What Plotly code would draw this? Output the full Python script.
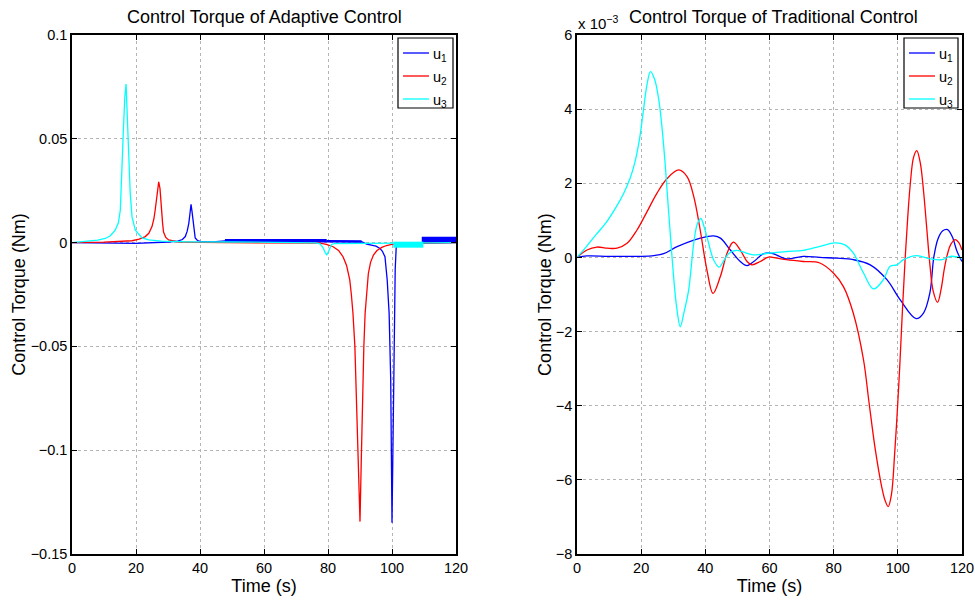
import plotly.graph_objects as go

# ---------------- Adaptive control (Nm) ----------------
ad_u1_t = [0, 10, 20, 30, 33, 34.5, 35.4, 36.0, 36.5, 36.9, 37.2, 37.5, 37.9, 38.5, 39.2, 40.1, 44, 47.8,
           79.6, 90.5, 92.1, 93.5, 95.0, 96.25, 97.0, 97.8, 98.5, 99.1, 99.6, 100.0, 100.4, 100.7, 101.0,
           101.3, 101.7, 103, 109.3, 120]
ad_u1_v = [0, -0.0002, -0.0004, 0.0003, 0.0007, 0.0015, 0.0029, 0.0055, 0.0093, 0.0145, 0.0184, 0.015,
           0.0093, 0.0022, 0.0010, 0.0006, 0.0003, 0.0008,
           0.0007, 0.0004, -0.0007, -0.0011, -0.0017, -0.0028, -0.0042, -0.0068, -0.018, -0.034, -0.066,
           -0.135, -0.074, -0.034, -0.013, -0.0028, -0.0007, -0.0005, -0.0004, 0.0]

ad_u1_chat1_t = [47.8, 79.6]
ad_u1_chat1_v = [0.0009, 0.0009]
ad_u1_chat2_t = [79.6, 90.5]
ad_u1_chat2_v = [0.0007, 0.0005]
ad_u1_chat3_t = [109.3, 120]
ad_u1_chat3_v = [0.0014, 0.0014]

ad_u2_t = [0, 10, 18.75, 21, 22.9, 24, 25, 25.6, 26, 26.6, 27.1, 27.5, 27.9, 28.3, 28.6, 29.3, 30.2, 33.3, 40,
           60, 77.5, 79.5, 81.6, 83.3, 84.7, 85.8, 86.8, 87.3, 87.8, 88.4, 88.9, 89.5, 90.0, 90.4, 90.8, 91.2,
           91.6, 92.1, 92.6, 93.3, 94.2, 95.3, 96.8, 98.3, 99.9, 105, 120]
ad_u2_v = [0, 0.0002, 0.0009, 0.0017, 0.0029, 0.0045, 0.0077, 0.0115, 0.0157, 0.023, 0.0293, 0.026, 0.0157,
           0.0095, 0.0051, 0.0025, 0.0013, 0.0003, 0.0001,
           0.0, -0.0003, -0.0009, -0.002, -0.0038, -0.0068, -0.011, -0.018, -0.025, -0.034, -0.05, -0.074,
           -0.105, -0.1344, -0.105, -0.074, -0.05, -0.034, -0.022, -0.015, -0.0095, -0.006, -0.0038,
           -0.0023, -0.0014, -0.0009, -0.0003, 0.0]

ad_u3_t = [0, 4, 8, 10.4, 12, 13.5, 14.5, 15.1, 15.6, 16.1, 16.5, 16.9, 17.2, 17.7, 18.2, 18.75, 19.8, 21.9,
           24, 28, 35, 50, 70, 76, 77.5, 78.5, 79.1, 79.6, 80.2, 81.1, 82, 90, 100.4, 109.8, 120]
ad_u3_v = [0, 0.0005, 0.0012, 0.002, 0.0033, 0.006, 0.0095, 0.0157, 0.0398, 0.0558, 0.07, 0.0764, 0.0639,
           0.0398, 0.0237, 0.0125, 0.006, 0.0023, 0.0013, 0.0007, 0.0004, 0.0003, 0.0002, -0.0001, -0.0006,
           -0.0025, -0.0048, -0.006, -0.0042, -0.0009, -0.0005, -0.0004, -0.0006, -0.0003, 0.0]

ad_u3_chat_t = [100.4, 109.8]
ad_u3_chat_v = [-0.001, -0.001]

# ---------------- Traditional control (x 10^-3 Nm) ----------------
tr_u1_t = [0, 3.1, 10, 20, 24, 27, 31.2, 36.4, 40.5, 42.6, 44.7, 47.8, 50.9, 53, 55.1, 58.2, 60.8, 65.3,
           70.5, 75.7, 80.9, 86.1, 91.4, 96.6, 100.7, 105.7, 108, 110, 111.2, 112.5, 114, 115.5, 117, 118.5, 120]
tr_u1_v = [0, 0.04, 0.03, 0.03, 0.05, 0.1, 0.29, 0.47, 0.56, 0.58, 0.52, 0.2, -0.11, -0.22, -0.11, 0.1, 0.11,
           -0.04, 0.03, 0, -0.02, -0.06, -0.2, -0.6, -1.14, -1.65, -1.5, -0.95, 0.0, 0.5, 0.72, 0.75, 0.55, 0.15,
           -0.11]

tr_u2_t = [0, 3.1, 6.2, 9.4, 12.5, 15.6, 18.7, 21.8, 24.9, 28.1, 31.7, 34.3, 36.4, 38.4, 40.5, 42.4, 44.7,
           46.8, 48.7, 50.9, 53, 54.5, 57.1, 59.7, 62.3, 65.3, 70.5, 75.7, 79.9, 83, 86.1, 89.3, 91, 93, 95, 96,
           97, 98, 99, 100, 100.7, 101.5, 102.3, 103.1, 103.9, 104.9, 105.9, 107, 108, 109, 110, 111, 112.4,
           113.5, 114.5, 115.5, 116.5, 117.9, 119, 120]
tr_u2_v = [0, 0.2, 0.28, 0.25, 0.25, 0.38, 0.74, 1.23, 1.73, 2.13, 2.36, 2.18, 1.64, 0.74, -0.34, -0.97, -0.51,
           0.12, 0.41, 0.2, -0.11, -0.2, -0.11, 0.01, -0.02, -0.06, -0.11, -0.15, -0.42, -0.78, -1.5, -2.76, -3.9,
           -5.2, -6.2, -6.55, -6.72, -6.4, -5.3, -3.9, -2.76, -1.3, 0, 1.1, 2.0, 2.7, 2.88, 2.55, 1.8, 0.8, -0.2,
           -0.9, -1.21, -0.85, -0.3, 0.1, 0.35, 0.48, 0.4, 0.2]

tr_u3_t = [0, 3, 6, 9, 12, 14.5, 16.5, 18, 19.5, 20.6, 21.8, 22.9, 24.2, 25.5, 26.5, 27.5, 28.5, 29.6, 31,
           32.2, 33.3, 34.8, 36.4, 37.5, 38.6, 39.7, 40.5, 42.6, 44.3, 46, 47.5, 49.7, 52, 54.9, 57, 60.1, 65.3,
           70.5, 75.7, 80.4, 83.5, 86.1, 89.3, 92.4, 95.5, 97.6, 99.7, 101.8, 105.9, 110.1, 113.8, 116.4, 120]
tr_u3_v = [0, 0.3, 0.62, 0.93, 1.33, 1.72, 2.12, 2.55, 3.2, 3.9, 4.65, 5.01, 4.8, 4.25, 3.5, 2.5, 1.3, 0.03,
           -1.3, -1.87, -1.5, -0.88, 0.39, 0.9, 1.05, 0.8, 0.56, -0.07, -0.26, -0.05, 0.12, 0.19, 0.14, 0.07,
           0.08, 0.12, 0.16, 0.19, 0.3, 0.39, 0.34, 0.12, -0.42, -0.85, -0.6, -0.24, -0.2, -0.06, 0.05, -0.04,
           -0.06, 0.03, -0.02]

left_yticks = [0.1, 0.05, 0, -0.05, -0.1, -0.15]
left_yticktext = ["0.1", "0.05", "0", "\u22120.05", "\u22120.1", "\u22120.15"]
right_yticks = [6, 4, 2, 0, -2, -4, -6, -8]
right_yticktext = ["6", "4", "2", "0", "\u22122", "\u22124", "\u22126", "\u22128"]
xticks = [0, 20, 40, 60, 80, 100, 120]
legend_names = ["u<sub>1</sub>", "u<sub>2</sub>", "u<sub>3</sub>"]

BLUE, RED, CYAN = "#0000ff", "#ff0000", "#00ffff"
COLORS = [BLUE, RED, CYAN]
FONT = "Liberation Sans, Arial, sans-serif"

fig = go.Figure()

def add(x, y, color, name, xa, ya, width=1.3, shape="linear"):
    fig.add_trace(go.Scatter(x=x, y=y, mode="lines", name=name, showlegend=False,
                             line=dict(color=color, width=width, shape=shape),
                             xaxis=xa, yaxis=ya, hoverinfo="skip"))

# left panel
add(ad_u1_t, ad_u1_v, BLUE, "u1", "x", "y")
add(ad_u1_chat1_t, ad_u1_chat1_v, BLUE, "u1", "x", "y", width=3.5)
add(ad_u1_chat2_t, ad_u1_chat2_v, BLUE, "u1", "x", "y", width=2.5)
add(ad_u1_chat3_t, ad_u1_chat3_v, BLUE, "u1", "x", "y", width=6)
add(ad_u2_t, ad_u2_v, RED, "u2", "x", "y")
add(ad_u3_t, ad_u3_v, CYAN, "u3", "x", "y")
add(ad_u3_chat_t, ad_u3_chat_v, CYAN, "u3", "x", "y", width=6)

# right panel
add(tr_u1_t, tr_u1_v, BLUE, "u1", "x2", "y2", shape="spline")
add(tr_u2_t, tr_u2_v, RED, "u2", "x2", "y2", shape="spline")
add(tr_u3_t, tr_u3_v, CYAN, "u3", "x2", "y2", shape="spline")

W, H = 975, 601
L1, R1 = 72, 456
L2, R2 = 577, 962
T, B = 35, 554

def px(x):
    return x / W

def py(y):
    return 1 - y / H

axis_common = dict(showline=True, linecolor="black", linewidth=1.5, mirror="ticks", ticks="inside",
                   ticklen=5, tickcolor="black", showgrid=True, gridcolor="#b4b4b4", griddash="dot",
                   gridwidth=1, zeroline=False, automargin=False, ticklabeloverflow="allow",
                   tickfont=dict(size=14.5, color="black", family=FONT))

shapes = []
annotations = [
    dict(text="Control Torque of Adaptive Control", x=px((L1 + R1) / 2), y=py(17),
         xref="paper", yref="paper", showarrow=False, font=dict(size=18, family=FONT),
         xanchor="center", yanchor="middle"),
    dict(text="Control Torque of Traditional Control", x=px((L2 + R2) / 2 + 4), y=py(17),
         xref="paper", yref="paper", showarrow=False, font=dict(size=18, family=FONT),
         xanchor="center", yanchor="middle"),
    dict(text="x 10<sup>\u22123</sup>", x=px(L2 - 1), y=py(T - 1), xref="paper", yref="paper",
         showarrow=False, font=dict(size=15, family=FONT), xanchor="left", yanchor="bottom"),
]

# legend boxes (one per panel)
for box_l, box_r in [(398, 453), (904, 958)]:
    shapes.append(dict(type="rect", xref="paper", yref="paper", x0=px(box_l), x1=px(box_r),
                       y0=py(108), y1=py(38), line=dict(color="black", width=1.2), fillcolor="white",
                       layer="above"))
    for i, (name, col) in enumerate(zip(legend_names, COLORS)):
        yl = 53 + 23 * i
        shapes.append(dict(type="line", xref="paper", yref="paper", x0=px(box_l + 5), x1=px(box_l + 31),
                           y0=py(yl), y1=py(yl), line=dict(color=col, width=1.3), layer="above"))
        annotations.append(dict(text=name, x=px(box_l + 33), y=py(yl + 2), xref="paper", yref="paper",
                                showarrow=False, font=dict(size=14.5, family=FONT, color="black"),
                                xanchor="left", yanchor="middle"))

fig.update_layout(
    width=W, height=H,
    margin=dict(l=0, r=0, t=0, b=0, autoexpand=False),
    plot_bgcolor="white", paper_bgcolor="white",
    font=dict(family=FONT, color="black"),
    showlegend=False,
    xaxis=dict(domain=[px(L1), px(R1)], range=[0, 120], tickvals=xticks, anchor="y",
               title=dict(text="Time (s)", font=dict(size=18), standoff=0), **axis_common),
    yaxis=dict(domain=[py(B), py(T)], range=[-0.15, 0.1], tickvals=left_yticks,
               ticktext=left_yticktext, anchor="x",
               title=dict(text="Control Torque (Nm)", font=dict(size=18), standoff=0), **axis_common),
    xaxis2=dict(domain=[px(L2), px(R2)], range=[0, 120], tickvals=xticks, anchor="y2",
                title=dict(text="Time (s)", font=dict(size=18), standoff=0), **axis_common),
    yaxis2=dict(domain=[py(B), py(T)], range=[-8, 6], tickvals=right_yticks,
                ticktext=right_yticktext, anchor="x2",
                title=dict(text="Control Torque (Nm)", font=dict(size=18), standoff=0), **axis_common),
    shapes=shapes,
    annotations=annotations,
)

# remove the default 8px page margin so the figure sits at the window's top-left corner
fig.write_html("out.html", config={"displayModeBar": False},
               post_script="document.body.style.margin='0';")
